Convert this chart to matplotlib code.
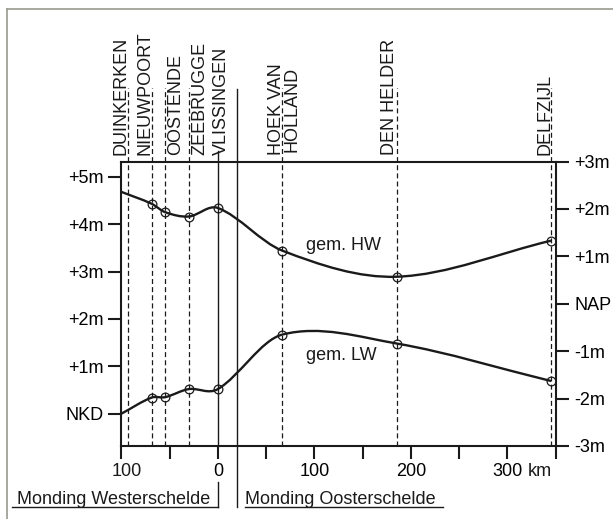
import numpy as np
import matplotlib
matplotlib.use("Agg")
import matplotlib.pyplot as plt
from matplotlib.path import Path
from matplotlib.patches import PathPatch
from matplotlib.lines import Line2D
import matplotlib.transforms as mtransforms

plt.rcParams['font.family'] = ['Liberation Sans', 'DejaVu Sans']
plt.rcParams['font.size'] = 13


# data

# stations, km along the coast from the Westerschelde mouth (west negative)
stations = ['DUINKERKEN', 'NIEUWPOORT', 'OOSTENDE', 'ZEEBRUGGE', 'VLISSINGEN',
            'HOEK VAN\nHOLLAND', 'DEN HELDER', 'DELFZIJL']
station_km = [-92.7, -68.7, -54.4, -30.1, 0, 66.8, 185.6, 345.2]

# mean high / low water in m NAP, first point is where the curve leaves the left axis
curve_km = [-100, -68.7, -54.4, -30.1, 0, 66.8, 185.6, 345.2]
hw = [2.36, 2.11, 1.93, 1.84, 2.02, 1.12, 0.57, 1.33]
lw = [-2.32, -1.98, -1.97, -1.80, -1.80, -0.65, -0.84, -1.63]

nkd_in_nap = -2.32
oosterschelde_km = 19.4

nap_ticks = [-3, -2, -1, 0, 1, 2, 3]
nap_labels = ['-3m', '-2m', '-1m', 'NAP', '+1m', '+2m', '+3m']
nkd_ticks = [0, 1, 2, 3, 4, 5]
nkd_labels = ['NKD', '+1m', '+2m', '+3m', '+4m', '+5m']
km_ticks = [-100, -50, 0, 50, 100, 150, 200, 250, 300, 350]
km_labels = ['', '', '0', '', '100', '', '200', '', '300', '']

# label shift (km) of each rotated station name against its line
label_shift = [-7.7, -6.3, 10.5, 11.1, 3.8, 2.2, -7.8, -5.8]


def smooth_path(xs, ys):
    # cubic hermite through the points, drawn as bezier segments
    xs = np.asarray(xs, float)
    ys = np.asarray(ys, float)
    m = np.empty(len(xs))
    m[0] = (ys[1] - ys[0]) / (xs[1] - xs[0])
    m[-1] = (ys[-1] - ys[-2]) / (xs[-1] - xs[-2])
    m[1:-1] = (ys[2:] - ys[:-2]) / (xs[2:] - xs[:-2])
    verts = [(xs[0], ys[0])]
    codes = [Path.MOVETO]
    for i in range(len(xs) - 1):
        h = (xs[i + 1] - xs[i]) / 3
        verts += [(xs[i] + h, ys[i] + h * m[i]),
                  (xs[i + 1] - h, ys[i + 1] - h * m[i + 1]),
                  (xs[i + 1], ys[i + 1])]
        codes += [Path.CURVE4] * 3
    return Path(verts, codes)


fig = plt.figure(figsize=(6.13, 5.19), dpi=100)
ax = fig.add_axes([0.1979, 0.1407, 0.7086, 0.5481])
axl = ax.twinx()
ax.set_xlim(-100, 350)
ax.set_ylim(-3, 3)

ink = '#1a1a1a'
for s in ax.spines.values():
    s.set_linewidth(1.5)
    s.set_color(ink)
for s in axl.spines.values():
    s.set_visible(False)

# right axis: NAP
ax.yaxis.tick_right()
ax.set_yticks(nap_ticks)
ax.set_yticklabels(nap_labels)
ax.set_xticks(km_ticks)
ax.set_xticklabels(km_labels)
ax.tick_params(direction='out', length=9.5, width=1.5, color=ink)
ax.tick_params(axis='y', pad=4, left=False, labelleft=False,
               right=True, labelright=True)
ax.tick_params(axis='x', pad=3)

# left axis: NKD
axl.set_ylim(-3 - nkd_in_nap, 3 - nkd_in_nap)
axl.set_yticks(nkd_ticks)
axl.set_yticklabels(nkd_labels)
axl.tick_params(direction='out', length=9.5, width=1.5, color=ink, pad=3,
                left=True, labelleft=True, right=False, labelright=False)

# station lines
vtrans = mtransforms.blended_transform_factory(ax.transData, ax.transAxes)
for name, km, dx in zip(stations, station_km, label_shift):
    if km == 0:
        ax.plot([km, km], [0, 1.037], transform=vtrans, color=ink, lw=1.0,
                clip_on=False, zorder=2)
    else:
        ax.plot([km, km], [0, 1.258], transform=vtrans, color=ink, lw=0.9,
                ls=(0, (4, 2.5)), clip_on=False, zorder=2)
    ax.text(km + dx, 1.023, name, transform=vtrans, rotation=90,
            ha='center', va='bottom', linespacing=0.9, color=ink)

# Oosterschelde mouth
ax.plot([oosterschelde_km, oosterschelde_km], [-0.2144, 1.255], transform=vtrans,
        color=ink, lw=1.0, clip_on=False)
ax.plot([0.2850, 0.7404], [-0.2144, -0.2144], transform=ax.transAxes,
        color=ink, lw=1.0, clip_on=False)
ax.text(0.2848, -0.2039, 'Monding Oosterschelde', transform=ax.transAxes,
        ha='left', va='baseline', color=ink)

# Westerschelde mouth
ax.plot([0, 0], [-0.1265, -0.2144], transform=vtrans, color=ink, lw=1.0,
        clip_on=False)
ax.plot([-0.2516, 0.2233], [-0.2144, -0.2144], transform=ax.transAxes,
        color=ink, lw=1.0, clip_on=False)
ax.text(-0.2400, -0.2039, 'Monding Westerschelde', transform=ax.transAxes,
        ha='left', va='baseline', color=ink)

# km labels placed like tick labels: 100 west (a bit right of its tick) and km unit
ktrans = ax.get_xaxis_text1_transform(9.5 + 3)[0]
ax.text(-94, 0, '100', transform=ktrans, ha='center', va='top', color=ink)
ax.text(321.4, 0, 'km', transform=ktrans, ha='left', va='top', color=ink)

# tide curves
for ys in (hw, lw):
    ax.add_patch(PathPatch(smooth_path(curve_km, ys), fill=False, lw=1.7,
                           edgecolor=ink, zorder=4))
    ax.plot(curve_km[1:], ys[1:], 'o', ms=6.3, mfc='none', mec=ink, mew=0.9,
            zorder=5)

ax.text(91.4, 1.14, 'gem. HW', ha='left', va='baseline', color=ink)
ax.text(91.4, -1.18, 'gem. LW', ha='left', va='baseline', color=ink)

# grey frame lines top and left
fig.add_artist(Line2D([7 / 613, 7 / 613], [0, 1 - 9 / 519], color='#9a9a8e', lw=1.2))
fig.add_artist(Line2D([7 / 613, 1], [1 - 9 / 519, 1 - 9 / 519], color='#9a9a8e', lw=1.2))

fig.savefig('out.png', dpi=100)
